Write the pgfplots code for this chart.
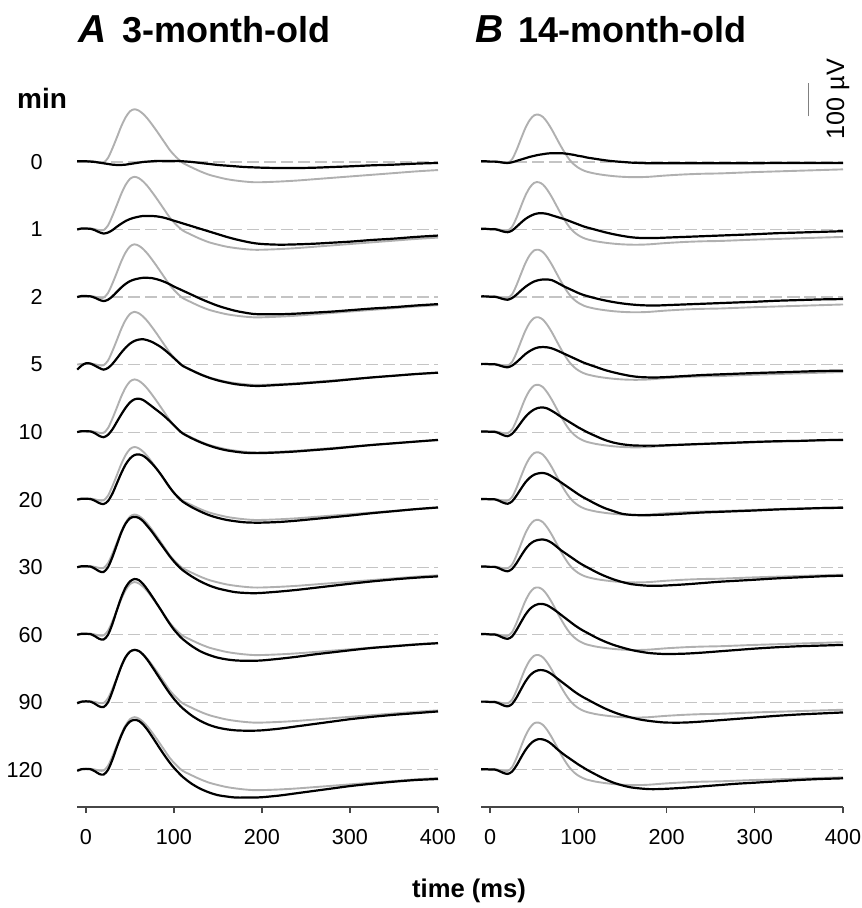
\documentclass[border=0pt]{standalone}
\usepackage{fontspec}
\setmainfont{Liberation Sans}
\usepackage{pgfplots}
\usepackage{pgfplotstable}
\pgfplotsset{compat=1.18}

\definecolor{trgray}{RGB}{176,176,176}
\definecolor{dashgray}{RGB}{196,196,196}
\definecolor{axgray}{RGB}{70,70,70}
\newcommand\lbl{\fontsize{10.8}{12}\selectfont}

% Panel A: x (ms), g = reference (grey) trace, b0..b9 = black traces at 0,1,2,5,10,20,30,60,90,120 min (uV)
\pgfplotstableread{
x    g    b0   b1   b2   b3   b4   b5   b6   b7   b8   b9
-10  0    2    0    0    -15  0    0    0    0    -3   -3
-5   2    2    3    3    -3   3    3    3    3    2    2
0    2    2    3    3    4    3    3    3    3    3    3
5    3    1    2    2    3    2    2    2    2    2    2
10   1    0    -2   -2   -3   -3   -3   -4   -4   -4   -4
15   -2   -2   -8   -8   -10  -11  -10  -12  -12  -12  -12
20   -2   -4   -12  -12  -15  -15  -13  -14  -14  -14  -14
25   12   -6   -9   -8   -10  -8   -4   0    0    0    0
30   40   -8   -2   2    2    8    18   30   32   32   30
35   72   -9   8    15   18   30   48   66   72   70   67
40   105  -9   17   28   35   52   78   102  110  106  101
45   132  -8   25   39   50   72   104  129  140  134  128
50   150  -6   31   47   62   88   122  145  158  150  143
55   156  -4   35   52   70   97   132  149  165  155  148
60   152  -2   38   55   74   99   134  146  162  152  145
65   142  0    40   57   75   95   130  136  150  141  134
70   128  1    40   57   72   86   120  121  133  125  118
75   111  2    40   56   67   76   107  105  114  106  99
80   93   3    39   53   60   66   92   87   94   86   79
85   74   3    37   49   52   56   75   69   74   66   59
90   55   3    34   44   42   45   56   51   53   46   40
95   36   3    30   38   31   33   37   33   33   27   22
100  21   3    26   31   19   20   20   17   15   10   6
105  8    3    22   25   7    7    6    3    0    -5   -8
110  -3   2    18   19   -4   -4   -6   -9   -13  -18  -21
120  -16  0    10   7    -17  -18  -22  -27  -33  -39  -41
130  -28  -3   2    -5   -29  -30  -35  -42  -49  -55  -56
140  -38  -6   -6   -16  -39  -40  -46  -54  -60  -67  -67
150  -45  -9   -14  -26  -47  -48  -54  -63  -68  -75  -75
160  -51  -11  -22  -34  -53  -54  -60  -69  -73  -80  -79
170  -55  -13  -29  -41  -58  -58  -64  -74  -76  -83  -82
180  -58  -15  -35  -46  -61  -61  -67  -76  -77  -84  -82
190  -60  -16  -40  -50  -63  -62  -68  -77  -77  -84  -82
200  -60  -17  -43  -51  -63  -62  -68  -76  -76  -83  -81
220  -58  -18  -45  -51  -60  -60  -66  -72  -71  -78  -76
240  -55  -18  -44  -49  -57  -57  -62  -67  -65  -71  -69
260  -51  -17  -42  -46  -53  -53  -57  -61  -58  -64  -62
280  -47  -15  -39  -43  -49  -49  -52  -55  -52  -57  -55
300  -43  -13  -36  -39  -44  -44  -47  -49  -46  -50  -48
325  -38  -10  -31  -34  -38  -38  -40  -42  -39  -43  -41
350  -33  -8   -27  -30  -33  -33  -34  -36  -34  -37  -35
375  -28  -5   -22  -25  -28  -28  -28  -31  -29  -32  -30
400  -24  -3   -18  -21  -24  -23  -23  -27  -25  -27  -27
}\tabA

% Panel B
\pgfplotstableread{
x    g    b0   b1   b2   b3   b4   b5   b6   b7   b8   b9
-10  0    2    2    2    2    2    2    2    2    2    2
-5   2    2    2    2    2    2    2    2    2    2    2
0    1    1    1    1    1    1    1    1    1    1    1
5    2    1    1    1    1    1    1    1    1    1    1
10   0    0    -2   -2   -2   -3   -3   -3   -3   -3   -3
15   -3   -2   -6   -6   -6   -9   -9   -9   -9   -9   -9
20   -3   -3   -8   -8   -8   -12  -12  -12  -12  -12  -12
25   8    -1   -3   -3   -3   -5   -5   -5   -5   -5   -5
30   35   3    8    7    7    10   12   12   14   14   13
35   68   7    20   19   19   28   32   33   37   38   36
40   100  11   31   30   31   45   51   53   59   61   58
45   124  15   39   39   40   58   65   68   76   79   75
50   138  18   45   46   47   67   74   77   86   90   86
55   140  21   48   50   51   72   78   81   91   95   91
60   133  23   48   52   52   73   79   82   91   95   90
65   117  25   46   52   51   70   76   79   87   91   85
70   96   26   42   50   48   63   69   72   79   83   76
75   72   26   38   44   43   55   61   62   70   73   64
80   48   26   34   37   37   46   52   51   60   63   53
85   26   25   30   30   31   38   43   42   50   53   43
90   7    23   25   24   25   30   34   33   40   43   34
95   -7   21   20   18   19   22   25   24   30   33   25
100  -17  18   15   12   13   14   16   15   21   24   16
105  -24  16   10   7    7    7    8    7    13   16   8
110  -29  13   6    3    2    0    1    0    6    9    0
120  -35  9    -1   -4   -7   -12  -13  -14  -8   -5   -14
130  -39  5    -8   -10  -16  -23  -25  -26  -20  -18  -27
140  -42  2    -14  -15  -23  -31  -34  -36  -30  -29  -38
150  -44  0    -19  -19  -29  -36  -42  -44  -38  -38  -46
160  -45  -2   -23  -22  -34  -39  -45  -50  -45  -45  -52
170  -45  -3   -25  -24  -37  -40  -46  -53  -50  -51  -55
180  -44  -4   -25  -25  -38  -40  -46  -55  -54  -55  -57
190  -42  -4   -25  -25  -38  -40  -45  -55  -56  -58  -57
200  -40  -4   -24  -24  -37  -39  -44  -54  -57  -60  -56
220  -37  -4   -22  -22  -34  -37  -41  -51  -56  -60  -53
240  -35  -4   -20  -20  -31  -35  -38  -47  -53  -57  -49
260  -34  -4   -18  -18  -29  -33  -36  -43  -49  -53  -45
280  -32  -4   -16  -16  -27  -31  -34  -40  -45  -49  -41
300  -30  -4   -14  -14  -25  -29  -32  -37  -41  -45  -38
325  -28  -3   -11  -11  -23  -27  -29  -33  -37  -40  -34
350  -26  -3   -9   -9   -21  -26  -27  -30  -34  -36  -30
375  -24  -3   -7   -7   -19  -24  -25  -27  -32  -33  -27
400  -22  -3   -5   -6   -18  -23  -24  -25  -30  -30  -25
}\tabB

\pgfplotsset{
  ergstyle/.style={
    scale only axis, width=180.4pt, height=356.3pt,
    xmin=-10, xmax=400, ymin=-1910, ymax=200,
    axis x line*=bottom, axis y line=none,
    xtick={0,100,200,300,400},
    tick align=outside, major tick length=3pt,
    axis line style={axgray, line width=0.7pt},
    tick style={axgray, line width=0.7pt},
    /pgf/number format/assume math mode=true,
    tick label style={font=\lbl},
    xticklabel style={yshift=-4.5pt},
    clip=false,
  },
  basel/.style={dashgray, line width=0.6pt, dash pattern=on 6pt off 2.5pt},
  reftr/.style={trgray, line width=0.95pt, smooth, tension=0.5},
  blktr/.style={black, line width=1.1pt, smooth, tension=0.5},
}

\begin{document}
\begin{tikzpicture}
\useasboundingbox (0pt,0pt) rectangle (430.5pt,-454pt);

% Panel A
\begin{axis}[ergstyle, at={(38.6pt,-403.5pt)}, anchor=south west]
\pgfplotsinvokeforeach{0,...,9}{
  \addplot[basel] table[x=x, y expr=-200*#1]{\tabA};
}
\pgfplotsinvokeforeach{0,...,9}{
  \addplot[reftr] table[x=x, y expr=\thisrow{g}-200*#1]{\tabA};
  \addplot[blktr] table[x=x, y expr=\thisrow{b#1}-200*#1]{\tabA};
}
\node[anchor=east, inner sep=0pt, font=\lbl, xshift=-17.1pt] at (axis cs:-10,0) {0};
\node[anchor=east, inner sep=0pt, font=\lbl, xshift=-17.1pt] at (axis cs:-10,-200) {1};
\node[anchor=east, inner sep=0pt, font=\lbl, xshift=-17.1pt] at (axis cs:-10,-400) {2};
\node[anchor=east, inner sep=0pt, font=\lbl, xshift=-17.1pt] at (axis cs:-10,-600) {5};
\node[anchor=east, inner sep=0pt, font=\lbl, xshift=-17.1pt] at (axis cs:-10,-800) {10};
\node[anchor=east, inner sep=0pt, font=\lbl, xshift=-17.1pt] at (axis cs:-10,-1000) {20};
\node[anchor=east, inner sep=0pt, font=\lbl, xshift=-17.1pt] at (axis cs:-10,-1200) {30};
\node[anchor=east, inner sep=0pt, font=\lbl, xshift=-17.1pt] at (axis cs:-10,-1400) {60};
\node[anchor=east, inner sep=0pt, font=\lbl, xshift=-17.1pt] at (axis cs:-10,-1600) {90};
\node[anchor=east, inner sep=0pt, font=\lbl, xshift=-17.1pt] at (axis cs:-10,-1800) {120};
\end{axis}

% Panel B
\begin{axis}[ergstyle, width=180.9pt, at={(240.6pt,-403.5pt)}, anchor=south west]
\pgfplotsinvokeforeach{0,...,9}{
  \addplot[basel] table[x=x, y expr=-200*#1]{\tabB};
}
\pgfplotsinvokeforeach{0,...,9}{
  \addplot[reftr] table[x=x, y expr=\thisrow{g}-200*#1]{\tabB};
  \addplot[blktr] table[x=x, y expr=\thisrow{b#1}-200*#1]{\tabB};
}
% scale bar: 100 uV
\draw[gray, line width=0.6pt] (axis cs:361,135) -- (axis cs:361,235);
\end{axis}

\node[rotate=90, inner sep=0pt, font=\fontsize{12.6}{13}\selectfont] at (419pt,-49.5pt) {100 µV};
\node[anchor=base, inner sep=0pt, font=\fontsize{14}{14}\selectfont\bfseries] at (21pt,-54.5pt) {min};
\node[anchor=base west, inner sep=0pt, font=\fontsize{19.5}{20}\selectfont\bfseries\itshape] at (39pt,-21.5pt) {A};
\node[anchor=base west, inner sep=0pt, font=\fontsize{18}{18}\selectfont\bfseries] at (61pt,-21.5pt) {3-month-old};
\node[anchor=base west, inner sep=0pt, font=\fontsize{19.5}{20}\selectfont\bfseries\itshape] at (237.5pt,-21.5pt) {B};
\node[anchor=base west, inner sep=0pt, font=\fontsize{18}{18}\selectfont\bfseries] at (259pt,-21.5pt) {14-month-old};
\node[anchor=base, inner sep=0pt, font=\fontsize{12.8}{13}\selectfont\bfseries] at (234.5pt,-448.5pt) {time (ms)};
\end{tikzpicture}
\end{document}
